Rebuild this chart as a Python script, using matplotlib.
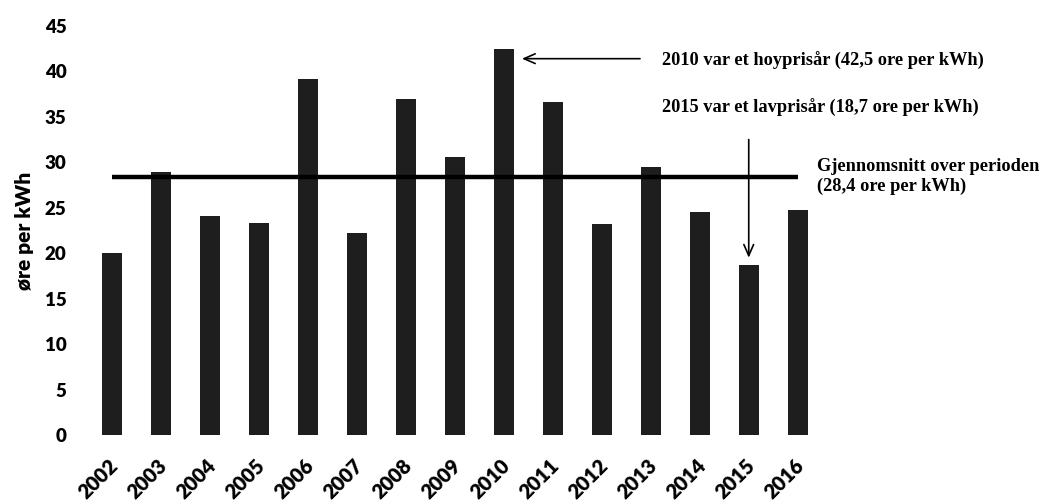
import numpy as np
import matplotlib.pyplot as plt
from matplotlib.transforms import ScaledTranslation

years = ['2002', '2003', '2004', '2005', '2006', '2007', '2008', '2009',
         '2010', '2011', '2012', '2013', '2014', '2015', '2016']
prices = [20.0, 28.9, 24.1, 23.3, 39.2, 22.2, 37.0, 30.6,
          42.5, 36.6, 23.2, 29.5, 24.5, 18.7, 24.8]
mean_price = 28.4
yticks = [0, 5, 10, 15, 20, 25, 30, 35, 40, 45]

txt_high = '2010 var et hoyprisår (42,5 ore per kWh)'
txt_low = '2015 var et lavprisår (18,7 ore per kWh)'
txt_mean = 'Gjennomsnitt over perioden\n(28,4 ore per kWh)'

fig = plt.figure(figsize=(10.51, 5.04), dpi=100)
ax = fig.add_axes([0.0833, 0.137, 0.699, 0.8115])

x = np.arange(len(years))
ax.bar(x, prices, width=0.41, color='#1e1e1e', zorder=2)
ax.hlines(mean_price, 0, len(years) - 1, color='black', lw=3.2, zorder=3)

ax.set_xlim(-0.5, len(years) - 0.5)
ax.set_ylim(0, 45)
ax.set_yticks(yticks)
ax.set_xticks(x)
for s in ax.spines.values():
    s.set_visible(False)
ax.tick_params(length=0)
ax.tick_params(axis='y', pad=15)
ax.tick_params(axis='x', pad=20)

tick_font = dict(family='Lato', weight='heavy', size=13.5)
ax.set_yticklabels([str(t) for t in yticks], **tick_font)
ax.set_xticklabels(years, rotation=45, ha='right', va='center',
                   rotation_mode='anchor', size=14.5,
                   family='Lato', weight='heavy')
shift = ScaledTranslation(3 / 100, 0, fig.dpi_scale_trans)
for lbl in ax.get_xticklabels():
    lbl.set_transform(lbl.get_transform() + shift)
ax.set_ylabel('øre per kWh', family='Lato', weight='heavy', size=15,
              labelpad=8)

note_font = dict(family='Liberation Serif', weight='bold', size=13.2,
                 color='black')
arrow = dict(arrowstyle='->,head_length=0.8,head_width=0.35',
             lw=1.2, color='black', shrinkA=0, shrinkB=0)

# high-price year: horizontal arrow to the 2010 bar
i_hi = years.index('2010')
ax.annotate('', xy=(i_hi + 0.37, 41.4), xytext=(10.78, 41.4),
            arrowprops=arrow, annotation_clip=False)
ax.text(11.22, 41.1, txt_high, va='center', ha='left', clip_on=False,
        **note_font)

# low-price year: vertical arrow down to the 2015 bar
i_lo = years.index('2015')
ax.annotate('', xy=(i_lo, prices[i_lo] + 0.8), xytext=(i_lo, 32.5),
            arrowprops=arrow, annotation_clip=False)
ax.text(11.22, 36.0, txt_low, va='center', ha='left', clip_on=False,
        **note_font)

ax.text(14.39, mean_price, txt_mean, va='center', ha='left', clip_on=False,
        linespacing=1.2, **note_font)

fig.savefig('out.png', dpi=100)
